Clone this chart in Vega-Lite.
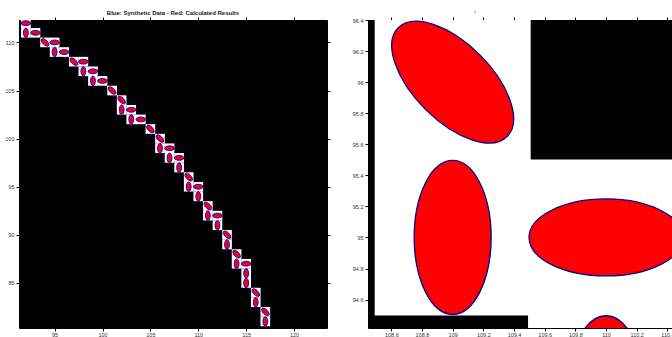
{
  "$schema": "https://vega.github.io/schema/vega-lite/v6.json",
  "background": "white",
  "padding": {"left": 4, "top": 9, "right": 0, "bottom": 0},
  "config": {
    "font": "Liberation Sans",
    "axis": {"labelFontSize": 5.5, "labelColor": "#333333", "tickSize": 3, "labelPadding": 2, "domainColor": "black", "tickColor": "black", "grid": false, "title": null, "labelFont": "Liberation Sans"},
    "axisBottom": {"labelPadding": 1},
    "concat": {"spacing": 21}
  },
  "datasets": {
    "cells": [
      {"x": 92, "y": 112, "dir": "h"}, {"x": 92, "y": 111, "dir": "v"}, {"x": 93, "y": 111, "dir": "h"},
      {"x": 94, "y": 110, "dir": "d"}, {"x": 95, "y": 110, "dir": "h"}, {"x": 95, "y": 109, "dir": "v"},
      {"x": 96, "y": 109, "dir": "h"}, {"x": 97, "y": 108, "dir": "d"}, {"x": 98, "y": 108, "dir": "h"},
      {"x": 98, "y": 107, "dir": "v"}, {"x": 99, "y": 107, "dir": "h"}, {"x": 99, "y": 106, "dir": "v"},
      {"x": 100, "y": 106, "dir": "h"}, {"x": 101, "y": 105, "dir": "d"}, {"x": 102, "y": 104, "dir": "d"},
      {"x": 102, "y": 103, "dir": "v"}, {"x": 103, "y": 103, "dir": "h"}, {"x": 103, "y": 102, "dir": "v"},
      {"x": 104, "y": 102, "dir": "h"}, {"x": 105, "y": 101, "dir": "d"}, {"x": 106, "y": 100, "dir": "d"},
      {"x": 106, "y": 99, "dir": "v"}, {"x": 107, "y": 99, "dir": "h"}, {"x": 107, "y": 98, "dir": "v"},
      {"x": 108, "y": 98, "dir": "h"}, {"x": 108, "y": 97, "dir": "v"}, {"x": 109, "y": 96, "dir": "d"},
      {"x": 109, "y": 95, "dir": "v"}, {"x": 110, "y": 95, "dir": "h"}, {"x": 110, "y": 94, "dir": "v"},
      {"x": 111, "y": 93, "dir": "d"}, {"x": 111, "y": 92, "dir": "v"}, {"x": 112, "y": 92, "dir": "h"},
      {"x": 112, "y": 91, "dir": "v"}, {"x": 113, "y": 90, "dir": "d"}, {"x": 113, "y": 89, "dir": "v"},
      {"x": 114, "y": 88, "dir": "d"}, {"x": 114, "y": 87, "dir": "v"}, {"x": 115, "y": 87, "dir": "h"},
      {"x": 115, "y": 86, "dir": "v"}, {"x": 115, "y": 85, "dir": "v"}, {"x": 116, "y": 84, "dir": "d"},
      {"x": 116, "y": 83, "dir": "v"}, {"x": 117, "y": 82, "dir": "d"}, {"x": 117, "y": 81, "dir": "v"}
    ]
  },
  "hconcat": [
    {
      "width": 308,
      "height": 308,
      "title": {"text": "Blue: Synthetic Data - Red: Calculated Results", "fontSize": 6, "fontWeight": "bold", "font": "Liberation Sans", "offset": 1, "color": "#222222"},
      "view": {"fill": "black", "stroke": null},
      "data": {"name": "cells"},
      "resolve": {"axis": {"x": "independent", "y": "independent"}},
      "layer": [
        {
          "mark": {"type": "point", "shape": "square", "filled": true, "color": "white", "opacity": 1, "size": 93, "clip": true},
          "encoding": {
            "x": {"field": "x", "type": "quantitative", "scale": {"domain": [91.28, 123.44], "nice": false, "zero": false}, "axis": {"orient": "bottom", "values": [95, 100, 105, 110, 115, 120]}},
            "y": {"field": "y", "type": "quantitative", "scale": {"domain": [80.32, 112.33], "nice": false, "zero": false}, "axis": {"orient": "left", "values": [85, 90, 95, 100, 105, 110]}}
          }
        },
        {
          "mark": {"type": "point", "filled": true, "color": "red", "opacity": 1, "size": 92, "clip": true},
          "encoding": {
            "x": {"field": "x", "type": "quantitative", "axis": {"orient": "top", "labels": false, "values": [95, 100, 105, 110, 115, 120]}},
            "y": {"field": "y", "type": "quantitative", "axis": {"orient": "right", "labels": false, "values": [85, 90, 95, 100, 105, 110]}},
            "shape": {"field": "dir", "type": "nominal", "legend": null, "scale": {"domain": ["h", "v", "d"], "range": ["M-1,0A1,0.5,0,0,1,0,-0.5A1,0.5,0,0,1,1,0A1,0.5,0,0,1,0,0.5A1,0.5,0,0,1,-1,0Z", "M0,-1A0.5,1,0,0,1,0.5,0A0.5,1,0,0,1,0,1A0.5,1,0,0,1,-0.5,0A0.5,1,0,0,1,0,-1Z", "M-0.7071,-0.7071A1,0.5,45,0,1,0.3536,-0.3536A1,0.5,45,0,1,0.7071,0.7071A1,0.5,45,0,1,-0.3536,0.3536A1,0.5,45,0,1,-0.7071,-0.7071Z"]}}
          }
        },
        {
          "mark": {"type": "point", "filled": false, "color": "#0000ee", "strokeWidth": 1, "opacity": 1, "size": 92, "clip": true},
          "encoding": {
            "x": {"field": "x", "type": "quantitative", "axis": null},
            "y": {"field": "y", "type": "quantitative", "axis": null},
            "shape": {"field": "dir", "type": "nominal", "legend": null, "scale": {"domain": ["h", "v", "d"], "range": ["M-1,0A1,0.5,0,0,1,0,-0.5A1,0.5,0,0,1,1,0A1,0.5,0,0,1,0,0.5A1,0.5,0,0,1,-1,0Z", "M0,-1A0.5,1,0,0,1,0.5,0A0.5,1,0,0,1,0,1A0.5,1,0,0,1,-0.5,0A0.5,1,0,0,1,0,-1Z", "M-0.7071,-0.7071A1,0.5,45,0,1,0.3536,-0.3536A1,0.5,45,0,1,0.7071,0.7071A1,0.5,45,0,1,-0.3536,0.3536A1,0.5,45,0,1,-0.7071,-0.7071Z"]}}
          }
        }
      ]
    },
    {
      "width": 304,
      "height": 308,
      "title": {"text": "'", "fontSize": 6, "font": "Liberation Sans", "offset": 1, "color": "#222222", "anchor": "middle", "dx": -45},
      "view": {"fill": "black", "stroke": null},
      "data": {"name": "cells"},
      "resolve": {"axis": {"x": "independent", "y": "independent"}},
      "layer": [
        {
          "mark": {"type": "point", "shape": "square", "filled": true, "color": "white", "opacity": 1, "size": 24336, "clip": true},
          "encoding": {
            "x": {"field": "x", "type": "quantitative", "scale": {"domain": [108.448, 110.43], "nice": false, "zero": false}, "axis": {"orient": "bottom", "values": [108.6, 108.8, 109, 109.2, 109.4, 109.6, 109.8, 110, 110.2, 110.4], "format": "~f"}},
            "y": {"field": "y", "type": "quantitative", "scale": {"domain": [94.417, 96.4], "nice": false, "zero": false}, "axis": {"orient": "left", "values": [94.6, 94.8, 95, 95.2, 95.4, 95.6, 95.8, 96, 96.2, 96.4], "format": "~f"}}
          }
        },
        {
          "mark": {"type": "point", "filled": true, "color": "red", "opacity": 1, "size": 23716, "clip": true},
          "encoding": {
            "x": {"field": "x", "type": "quantitative", "axis": {"orient": "top", "labels": false, "values": [108.6, 108.8, 109, 109.2, 109.4, 109.6, 109.8, 110, 110.2, 110.4]}},
            "y": {"field": "y", "type": "quantitative", "axis": {"orient": "right", "labels": false, "values": [94.6, 94.8, 95, 95.2, 95.4, 95.6, 95.8, 96, 96.2, 96.4]}},
            "shape": {"field": "dir", "type": "nominal", "legend": null, "scale": {"domain": ["h", "v", "d"], "range": ["M-1,0A1,0.5,0,0,1,0,-0.5A1,0.5,0,0,1,1,0A1,0.5,0,0,1,0,0.5A1,0.5,0,0,1,-1,0Z", "M0,-1A0.5,1,0,0,1,0.5,0A0.5,1,0,0,1,0,1A0.5,1,0,0,1,-0.5,0A0.5,1,0,0,1,0,-1Z", "M-0.7071,-0.7071A1,0.5,45,0,1,0.3536,-0.3536A1,0.5,45,0,1,0.7071,0.7071A1,0.5,45,0,1,-0.3536,0.3536A1,0.5,45,0,1,-0.7071,-0.7071Z"]}}
          }
        },
        {
          "mark": {"type": "point", "filled": false, "color": "#000090", "strokeWidth": 1.3, "opacity": 1, "size": 23716, "clip": true},
          "encoding": {
            "x": {"field": "x", "type": "quantitative", "axis": null},
            "y": {"field": "y", "type": "quantitative", "axis": null},
            "shape": {"field": "dir", "type": "nominal", "legend": null, "scale": {"domain": ["h", "v", "d"], "range": ["M-1,0A1,0.5,0,0,1,0,-0.5A1,0.5,0,0,1,1,0A1,0.5,0,0,1,0,0.5A1,0.5,0,0,1,-1,0Z", "M0,-1A0.5,1,0,0,1,0.5,0A0.5,1,0,0,1,0,1A0.5,1,0,0,1,-0.5,0A0.5,1,0,0,1,0,-1Z", "M-0.7071,-0.7071A1,0.5,45,0,1,0.3536,-0.3536A1,0.5,45,0,1,0.7071,0.7071A1,0.5,45,0,1,-0.3536,0.3536A1,0.5,45,0,1,-0.7071,-0.7071Z"]}}
          }
        }
      ]
    }
  ]
}
